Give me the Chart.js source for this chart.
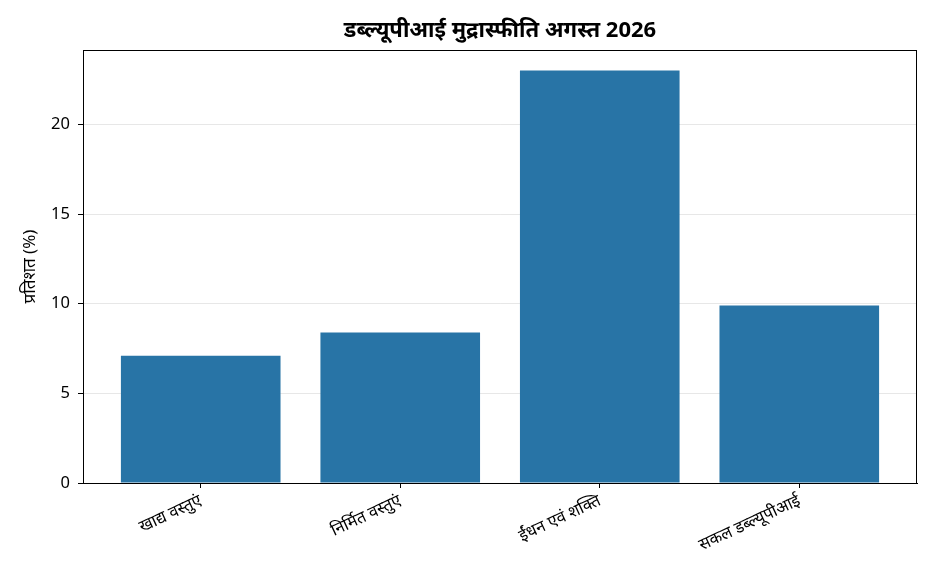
<!DOCTYPE html>
<html>
<head>
<meta charset="utf-8">
<script src="https://cdn.jsdelivr.net/npm/chart.js@4"></script>
<style>
  body { margin: 0; background: #fff; }
  #wrap { width: 936px; height: 572px; }
</style>
</head>
<body>
<div id="wrap"><canvas id="wpiChart"></canvas></div>
<script>
// data
var categories = ['खाद्य वस्तुएं', 'निर्मित वस्तुएं', 'ईंधन एवं शक्ति', 'सकल डब्ल्यूपीआई'];
var wpiValues = [7.1, 8.4, 23.0, 9.9];
var yTicks = [0, 5, 10, 15, 20];

Chart.defaults.font.family = "'Noto Sans', sans-serif";
Chart.defaults.color = '#000';

// box around the plot, like the other spines
var frame = {
    id: 'frame',
    afterDraw: function(chart) {
        var a = chart.chartArea, c = chart.ctx;
        c.save();
        c.strokeStyle = '#000';
        c.lineWidth = 1;
        c.strokeRect(a.left + 0.5, a.top + 0.5, a.right - a.left - 1, a.bottom - a.top);
        c.restore();
    }
};

var ctx = document.getElementById('wpiChart').getContext('2d');
var chart = new Chart(ctx, {
    type: 'bar',
    data: {
        datasets: [{
            label: 'WPI',
            backgroundColor: '#2874a6',
            data: wpiValues.map(function(v, i) { return {x: i, y: v}; }),
            barPercentage: 1,
            categoryPercentage: 0.8
        }]
    },
    options: {
        responsive: true,
        maintainAspectRatio: false,
        animation: false,
        layout: { padding: { left: 0, right: 19, top: 0, bottom: 0 } },
        plugins: {
            legend: { display: false },
            tooltip: { enabled: false },
            title: {
                display: true,
                fullSize: false,
                text: 'डब्ल्यूपीआई मुद्रास्फीति अगस्त 2026',
                color: '#000',
                font: { size: 22, weight: 'bold' },
                padding: { top: 18, bottom: 5.6 }
            }
        },
        scales: {
            x: {
                type: 'linear',
                offset: false,
                min: -0.59,
                max: 3.59,
                afterBuildTicks: function(axis) {
                    axis.ticks = categories.map(function(c, i) { return {value: i}; });
                },
                afterFit: function(axis) { axis.height = 89; },
                grid: { offset: false, drawOnChartArea: false, tickColor: '#000', tickLength: 5 },
                border: { color: '#000', width: 1 },
                ticks: {
                    minRotation: 25,
                    maxRotation: 25,
                    padding: 3,
                    font: { size: 16.5 },
                    callback: function(value) { return categories[value]; }
                }
            },
            y: {
                min: 0,
                max: 24.15,
                z: 1,
                afterBuildTicks: function(axis) {
                    axis.ticks = yTicks.map(function(v) { return {value: v}; });
                },
                afterFit: function(axis) { axis.width = 83; },
                grid: { color: 'rgba(176,176,176,0.3)', tickColor: '#000', tickLength: 5 },
                border: { color: '#000', width: 1 },
                ticks: { padding: 8, font: { size: 16.5 } },
                title: {
                    display: true,
                    text: 'प्रतिशत (%)',
                    font: { size: 17 },
                    padding: { top: 20, bottom: 0 }
                }
            }
        }
    },
    plugins: [frame]
});
</script>
</body>
</html>
